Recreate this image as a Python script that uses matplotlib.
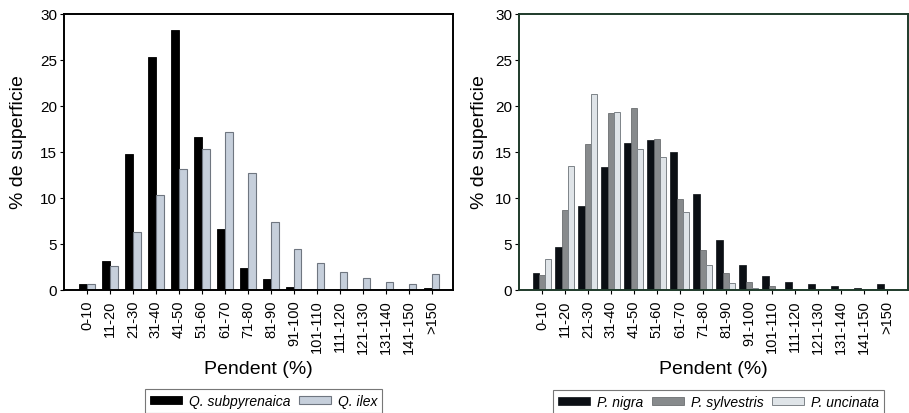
import matplotlib
matplotlib.use("Agg")
import matplotlib.pyplot as plt
import numpy as np

plt.rcParams['font.family'] = ['Liberation Sans', 'DejaVu Sans']

categories = ["0-10", "11-20", "21-30", "31-40", "41-50", "51-60", "61-70", "71-80",
              "81-90", "91-100", "101-110", "111-120", "121-130", "131-140", "141-150", ">150"]

q_subpyrenaica = [0.65, 3.1, 14.75, 25.3, 28.25, 16.65, 6.6, 2.4, 1.25, 0.35, 0.05, 0.0, 0.0, 0.0, 0.0, 0.18]
q_ilex = [0.7, 2.6, 6.35, 10.35, 13.2, 15.3, 17.2, 12.75, 7.4, 4.45, 2.9, 1.95, 1.3, 0.9, 0.6, 1.75]

p_nigra = [1.85, 4.65, 9.1, 13.35, 15.95, 16.3, 14.95, 10.4, 5.45, 2.75, 1.5, 0.9, 0.6, 0.4, 0.22, 0.7]
p_sylvestris = [1.65, 8.75, 15.9, 19.2, 19.75, 16.45, 9.9, 4.4, 1.85, 0.85, 0.4, 0.08, 0.0, 0.0, 0.0, 0.0]
p_uncinata = [3.35, 13.45, 21.35, 19.3, 15.35, 14.45, 8.5, 2.75, 0.8, 0.25, 0.05, 0.0, 0.0, 0.0, 0.0, 0.0]

W, H = 909, 414
fig = plt.figure(figsize=(W / 100, H / 100), dpi=100)

def px_axes(l, t, r, b):
    return fig.add_axes([l / W, (H - b) / H, (r - l) / W, (b - t) / H])

x = np.arange(len(categories))

def style(ax, spine_color, ylab_x):
    ax.set_ylim(0, 30)
    ax.set_yticks(range(0, 31, 5))
    ax.set_xlim(-1.0, 15.92)
    ax.set_xticks(x)
    ax.set_xticklabels(categories, rotation=90, fontsize=10.5)
    ax.tick_params(axis='y', labelsize=11, length=3, width=0.8, direction='out', pad=2)
    ax.tick_params(axis='x', length=3, width=0.8, direction='out', pad=4)
    for s in ax.spines.values():
        s.set_color(spine_color)
        s.set_linewidth(1.4)
    ax.set_ylabel("% de superficie", fontsize=14)
    ax.yaxis.set_label_coords(ylab_x, 0.54)
    ax.set_xlabel("Pendent (%)", fontsize=14, labelpad=5)

leg_kw = dict(loc='center', prop={'style': 'italic', 'size': 10},
              frameon=True, fancybox=False, edgecolor='#555555', handlelength=2.3,
              handleheight=0.45, columnspacing=0.6, handletextpad=0.5,
              borderpad=0.35, borderaxespad=0)

# Left panel
ax1 = px_axes(64, 15, 453, 291)
w = 0.33
b1 = ax1.bar(x - w / 2, q_subpyrenaica, width=w, color='black', edgecolor='black', linewidth=0.6,
             label='Q. subpyrenaica')
b2 = ax1.bar(x + w / 2, q_ilex, width=w, color='#c6cfdb', edgecolor='#6f7680', linewidth=0.8,
             label='Q. ilex')
style(ax1, 'black', -37 / 389)
leg1 = fig.legend(handles=[b1, b2], labels=['Q. subpyrenaica', 'Q. ilex'], ncol=2,
                  bbox_to_anchor=((142 + 385) / 2 / W, 1 - 402 / H), **leg_kw)
leg1.get_frame().set_linewidth(0.8)

# Right panel
ax2 = px_axes(519, 15, 908, 291)
w3 = 0.275
c1 = ax2.bar(x - w3, p_nigra, width=w3, color='#0b0f14', edgecolor='#0b0f14', linewidth=0.5,
             label='P. nigra')
c2 = ax2.bar(x, p_sylvestris, width=w3, color='#878a8c', edgecolor='#5a5d60', linewidth=0.5,
             label='P. sylvestris')
c3 = ax2.bar(x + w3, p_uncinata, width=w3, color='#dfe4e8', edgecolor='#7d8388', linewidth=0.7,
             label='P. uncinata')
style(ax2, '#1e3a2a', -31 / 389)
leg2 = fig.legend(handles=[c1, c2, c3], labels=['P. nigra', 'P. sylvestris', 'P. uncinata'], ncol=3,
                  bbox_to_anchor=((547 + 890) / 2 / W, 1 - 403 / H), **leg_kw)
leg2.get_frame().set_linewidth(0.8)

fig.savefig("out.png", dpi=100)
